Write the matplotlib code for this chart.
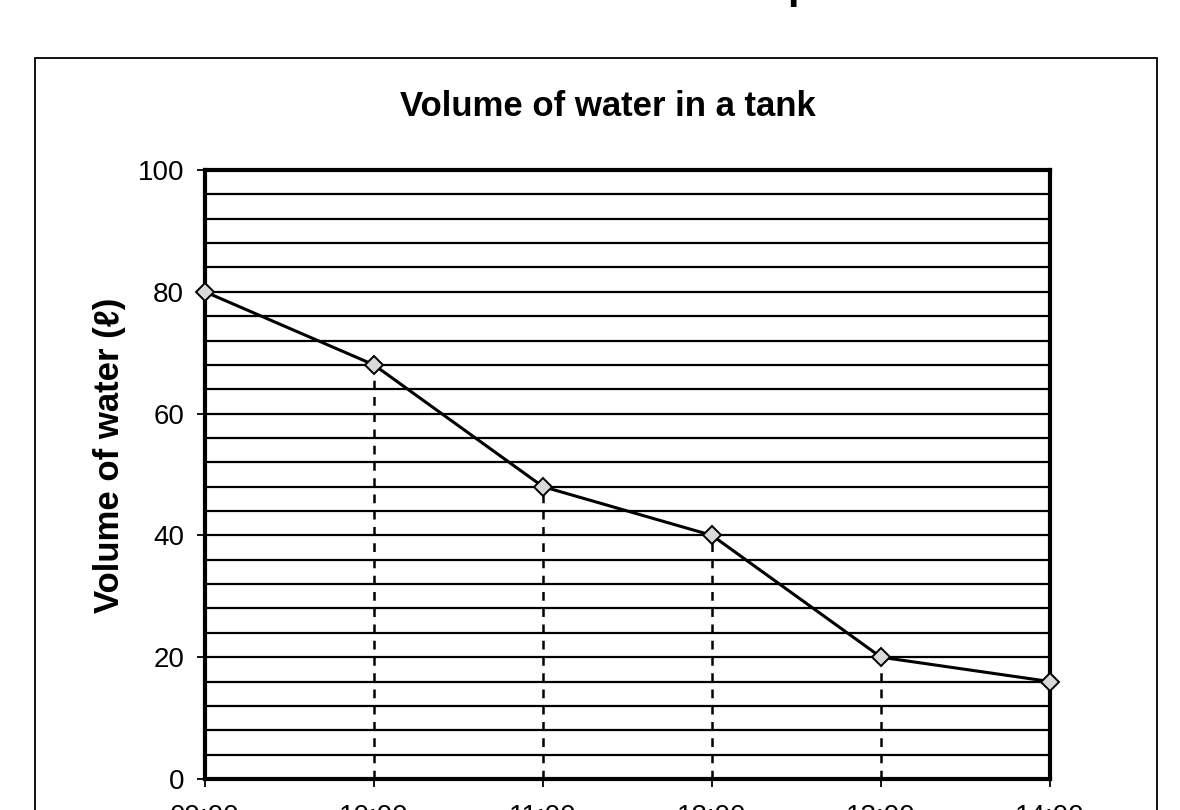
import matplotlib
matplotlib.use('Agg')
import matplotlib.pyplot as plt
from matplotlib.patches import Rectangle

# data
times = ['09:00', '10:00', '11:00', '12:00', '13:00', '14:00']
volume = [80, 68, 48, 40, 20, 16]
y_ticks = [0, 20, 40, 60, 80, 100]
grid_step = 4

plt.rcParams['font.family'] = ['Liberation Sans', 'DejaVu Sans']

W, H = 1180, 810
fig = plt.figure(figsize=(W / 100, H / 100), dpi=100)

# outer chart frame (bottom is cut off by the picture)
frame = Rectangle((35 / W, -0.1), (1157 - 35) / W, 1.1 - 58 / H,
                  transform=fig.transFigure, fill=False, edgecolor='black',
                  linewidth=1.3)
fig.add_artist(frame)

# fragment of text cut off at the top edge
fig.text(800 / W, 1 + 2 / H, 'p', fontsize=30, fontweight='bold', ha='center',
         va='baseline')

ax = fig.add_axes([205 / W, 1 - 779 / H, (1050 - 205) / W, (779 - 170) / H])
x = list(range(len(times)))

# horizontal grid every 4 units
for g in range(grid_step, 100, grid_step):
    ax.axhline(g, color='black', linewidth=1.6, zorder=1)

# dashed drop lines from the points to the time axis
for xi, v in zip(x[1:-1], volume[1:-1]):
    ax.plot([xi, xi], [0, v], color='black', linestyle=(0, (3.5, 3)),
            linewidth=1.8, zorder=2)

ax.plot(x, volume, color='black', linewidth=2.2, marker='D', markersize=9,
        markerfacecolor='#d9d9d9', markeredgecolor='black',
        markeredgewidth=1.4, clip_on=False, zorder=5)

ax.set_xlim(0, len(times) - 1)
ax.set_ylim(0, 100)
ax.set_xticks(x)
ax.set_xticklabels(times)
ax.set_yticks(y_ticks)
ax.tick_params(axis='both', direction='out', length=6, width=1.3,
               labelsize=20, colors='black')
ax.tick_params(axis='x', pad=12)
ax.tick_params(axis='y', pad=9)
for side in ['left', 'right', 'top', 'bottom']:
    ax.spines[side].set_linewidth(3)
    ax.spines[side].set_color('black')

fig.text(608 / W, 1 - 106 / H, 'Volume of water in a tank', fontsize=25,
         fontweight='bold', ha='center', va='center')
fig.text(110 / W, 1 - 455 / H, 'Volume of water (ℓ)', fontsize=25,
         fontweight='bold', rotation=90, ha='center', va='center')

fig.savefig('out.png', dpi=100)
